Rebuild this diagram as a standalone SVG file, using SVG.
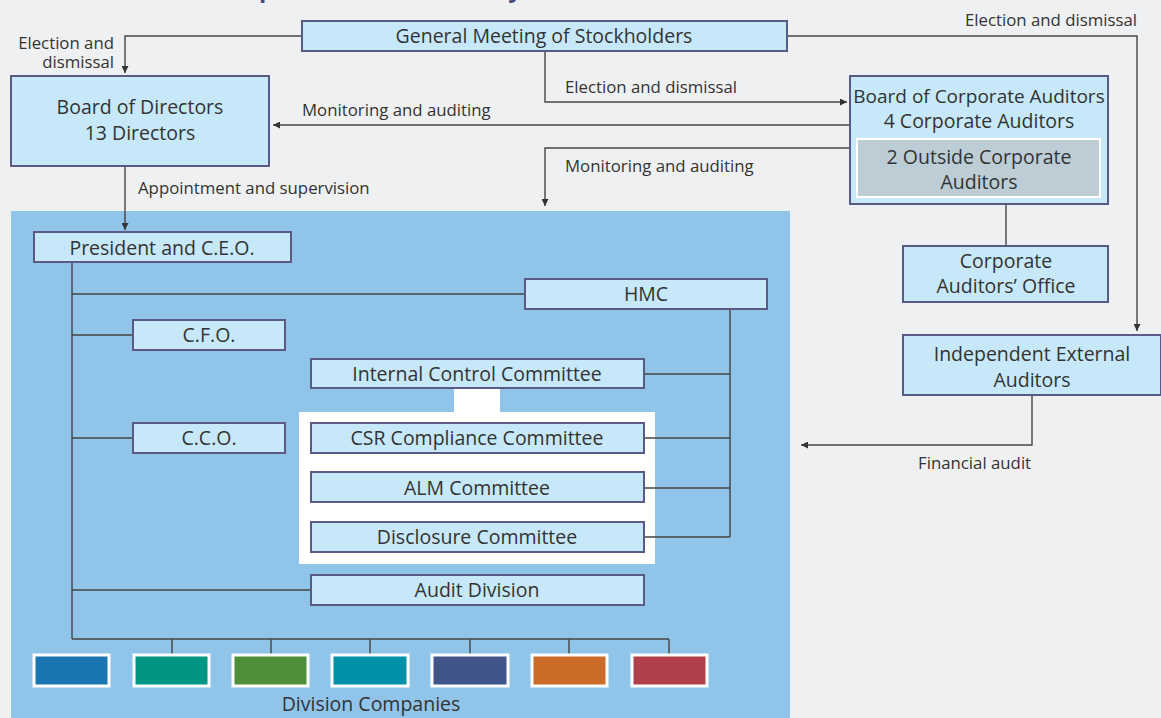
<svg xmlns="http://www.w3.org/2000/svg" width="1161" height="718" viewBox="0 0 1161 718">
  <style>
    .box { fill: #c6e8f8; stroke: #5b5a85; stroke-width: 2; }
    .t { font-family: "Open Sans", "Noto Sans", sans-serif; fill: #333; text-anchor: middle; }
    .big { font-size: 19.5px; }
    .mid { font-size: 19px; }
    .lbl { font-family: "Open Sans", "Noto Sans", sans-serif; fill: #333; font-size: 16.8px; }
    .ln { fill: none; stroke: #444; stroke-width: 1.4; }
    .co { stroke: #fff; stroke-width: 3; }
  </style>
  <defs>
    <marker id="arr" viewBox="0 0 10 10" refX="10" refY="5" markerWidth="7" markerHeight="7" orient="auto" markerUnits="userSpaceOnUse">
      <path d="M0,0 L10,5 L0,10 z" fill="#333"/>
    </marker>
  </defs>

  <!-- page background -->
  <rect x="0" y="0" width="1161" height="718" fill="#eff0f2"/>
  <!-- title (clipped at the top edge) -->
  <text x="218" y="-3" font-family="Open Sans, Noto Sans, sans-serif" font-size="24" font-weight="bold" fill="#4b4a7d">Corporate Governance System</text>

  <!-- executive area -->
  <rect x="11" y="211" width="779" height="507" fill="#90c4e8"/>
  <!-- committee panel -->
  <path d="M454,388 H500 V412 H655 V564 H299 V412 H454 Z" fill="#fff"/>

  <!-- connectors -->
  <g id="connectors">
    <path class="ln" d="M302,36 H125 V73" marker-end="url(#arr)"/>
    <path class="ln" d="M787,36 H1137 V331" marker-end="url(#arr)"/>
    <path class="ln" d="M545,51 V102 H847" marker-end="url(#arr)"/>
    <path class="ln" d="M850,125 H273" marker-end="url(#arr)"/>
    <path class="ln" d="M850,148 H545 V206" marker-end="url(#arr)"/>
    <path class="ln" d="M1006,204 V246"/>
    <path class="ln" d="M1032,395 V445 H801" marker-end="url(#arr)"/>
    <path class="ln" d="M125,166 V230" marker-end="url(#arr)"/>
    <!-- executive tree -->
    <path class="ln" d="M72,262 V639"/>
    <path class="ln" d="M72,294 H525"/>
    <path class="ln" d="M72,335 H133"/>
    <path class="ln" d="M72,438 H133"/>
    <path class="ln" d="M72,590 H311"/>
    <path class="ln" d="M730,309 V537"/>
    <path class="ln" d="M644,374 H730 M644,438 H730 M644,488 H730 M644,537 H730"/>
    <path class="ln" d="M72,639 H669 M172,639 V654 M271,639 V654 M370,639 V654 M470,639 V654 M569,639 V654 M669,639 V654"/>
  </g>

  <g id="gms"><rect class="box" x="302" y="21" width="485" height="30"/><text class="t big" x="544" y="43">General Meeting of Stockholders</text></g>
  <g id="bod"><rect class="box" x="11" y="76" width="258" height="90"/><text class="t big" x="140" y="114">Board of Directors</text><text class="t big" x="140" y="140">13 Directors</text></g>
  <g id="bca">
    <rect class="box" x="850" y="76" width="258" height="128"/>
    <text class="t mid" x="979" y="103">Board of Corporate Auditors</text>
    <text class="t big" x="979" y="128">4 Corporate Auditors</text>
    <rect x="857" y="139" width="243" height="58" fill="#bccdd6" stroke="#fff" stroke-width="2"/>
    <text class="t big" x="979" y="164">2 Outside Corporate</text>
    <text class="t big" x="979" y="189">Auditors</text>
  </g>
  <g id="cao"><rect class="box" x="903" y="246" width="205" height="56"/><text class="t big" x="1006" y="268">Corporate</text><text class="t big" x="1006" y="293">Auditors’ Office</text></g>
  <g id="iea"><rect class="box" x="903" y="335" width="258" height="60"/><text class="t big" x="1032" y="361">Independent External</text><text class="t big" x="1032" y="387">Auditors</text></g>

  <g id="ceo"><rect class="box" x="34" y="232" width="257" height="30"/><text class="t big" x="162" y="255">President and C.E.O.</text></g>
  <g id="hmc"><rect class="box" x="525" y="279" width="242" height="30"/><text class="t big" x="646" y="301">HMC</text></g>
  <g id="cfo"><rect class="box" x="133" y="320" width="152" height="30"/><text class="t big" x="209" y="342">C.F.O.</text></g>
  <g id="cco"><rect class="box" x="133" y="423" width="152" height="30"/><text class="t big" x="209" y="445">C.C.O.</text></g>
  <g id="icc"><rect class="box" x="311" y="359" width="333" height="29"/><text class="t big" x="477" y="381">Internal Control Committee</text></g>
  <g id="csr"><rect class="box" x="311" y="423" width="333" height="30"/><text class="t big" x="477" y="445">CSR Compliance Committee</text></g>
  <g id="alm"><rect class="box" x="311" y="472" width="333" height="30"/><text class="t big" x="477" y="495">ALM Committee</text></g>
  <g id="disc"><rect class="box" x="311" y="522" width="333" height="30"/><text class="t big" x="477" y="544">Disclosure Committee</text></g>
  <g id="audit"><rect class="box" x="311" y="575" width="333" height="30"/><text class="t big" x="477" y="597">Audit Division</text></g>

  <g id="divisions">
    <rect class="co" x="34" y="655" width="75" height="31" fill="#1a76b0"/>
    <rect class="co" x="134" y="655" width="75" height="31" fill="#009682"/>
    <rect class="co" x="233" y="655" width="75" height="31" fill="#4f8f3a"/>
    <rect class="co" x="332" y="655" width="76" height="31" fill="#0090aa"/>
    <rect class="co" x="432" y="655" width="76" height="31" fill="#42558a"/>
    <rect class="co" x="532" y="655" width="75" height="31" fill="#cc6b28"/>
    <rect class="co" x="632" y="655" width="75" height="31" fill="#b2404c"/>
    <text class="t big" x="371" y="711">Division Companies</text>
  </g>

  <!-- connector labels -->
  <g id="labels">
    <text class="lbl" x="114" y="49" text-anchor="end">Election and</text>
    <text class="lbl" x="114" y="68" text-anchor="end">dismissal</text>
    <text class="lbl" x="1137" y="26" text-anchor="end">Election and dismissal</text>
    <text class="lbl" x="565" y="93">Election and dismissal</text>
    <text class="lbl" x="302" y="116">Monitoring and auditing</text>
    <text class="lbl" x="565" y="172">Monitoring and auditing</text>
    <text class="lbl" x="138" y="194">Appointment and supervision</text>
    <text class="lbl" x="918" y="469">Financial audit</text>
  </g>
</svg>
